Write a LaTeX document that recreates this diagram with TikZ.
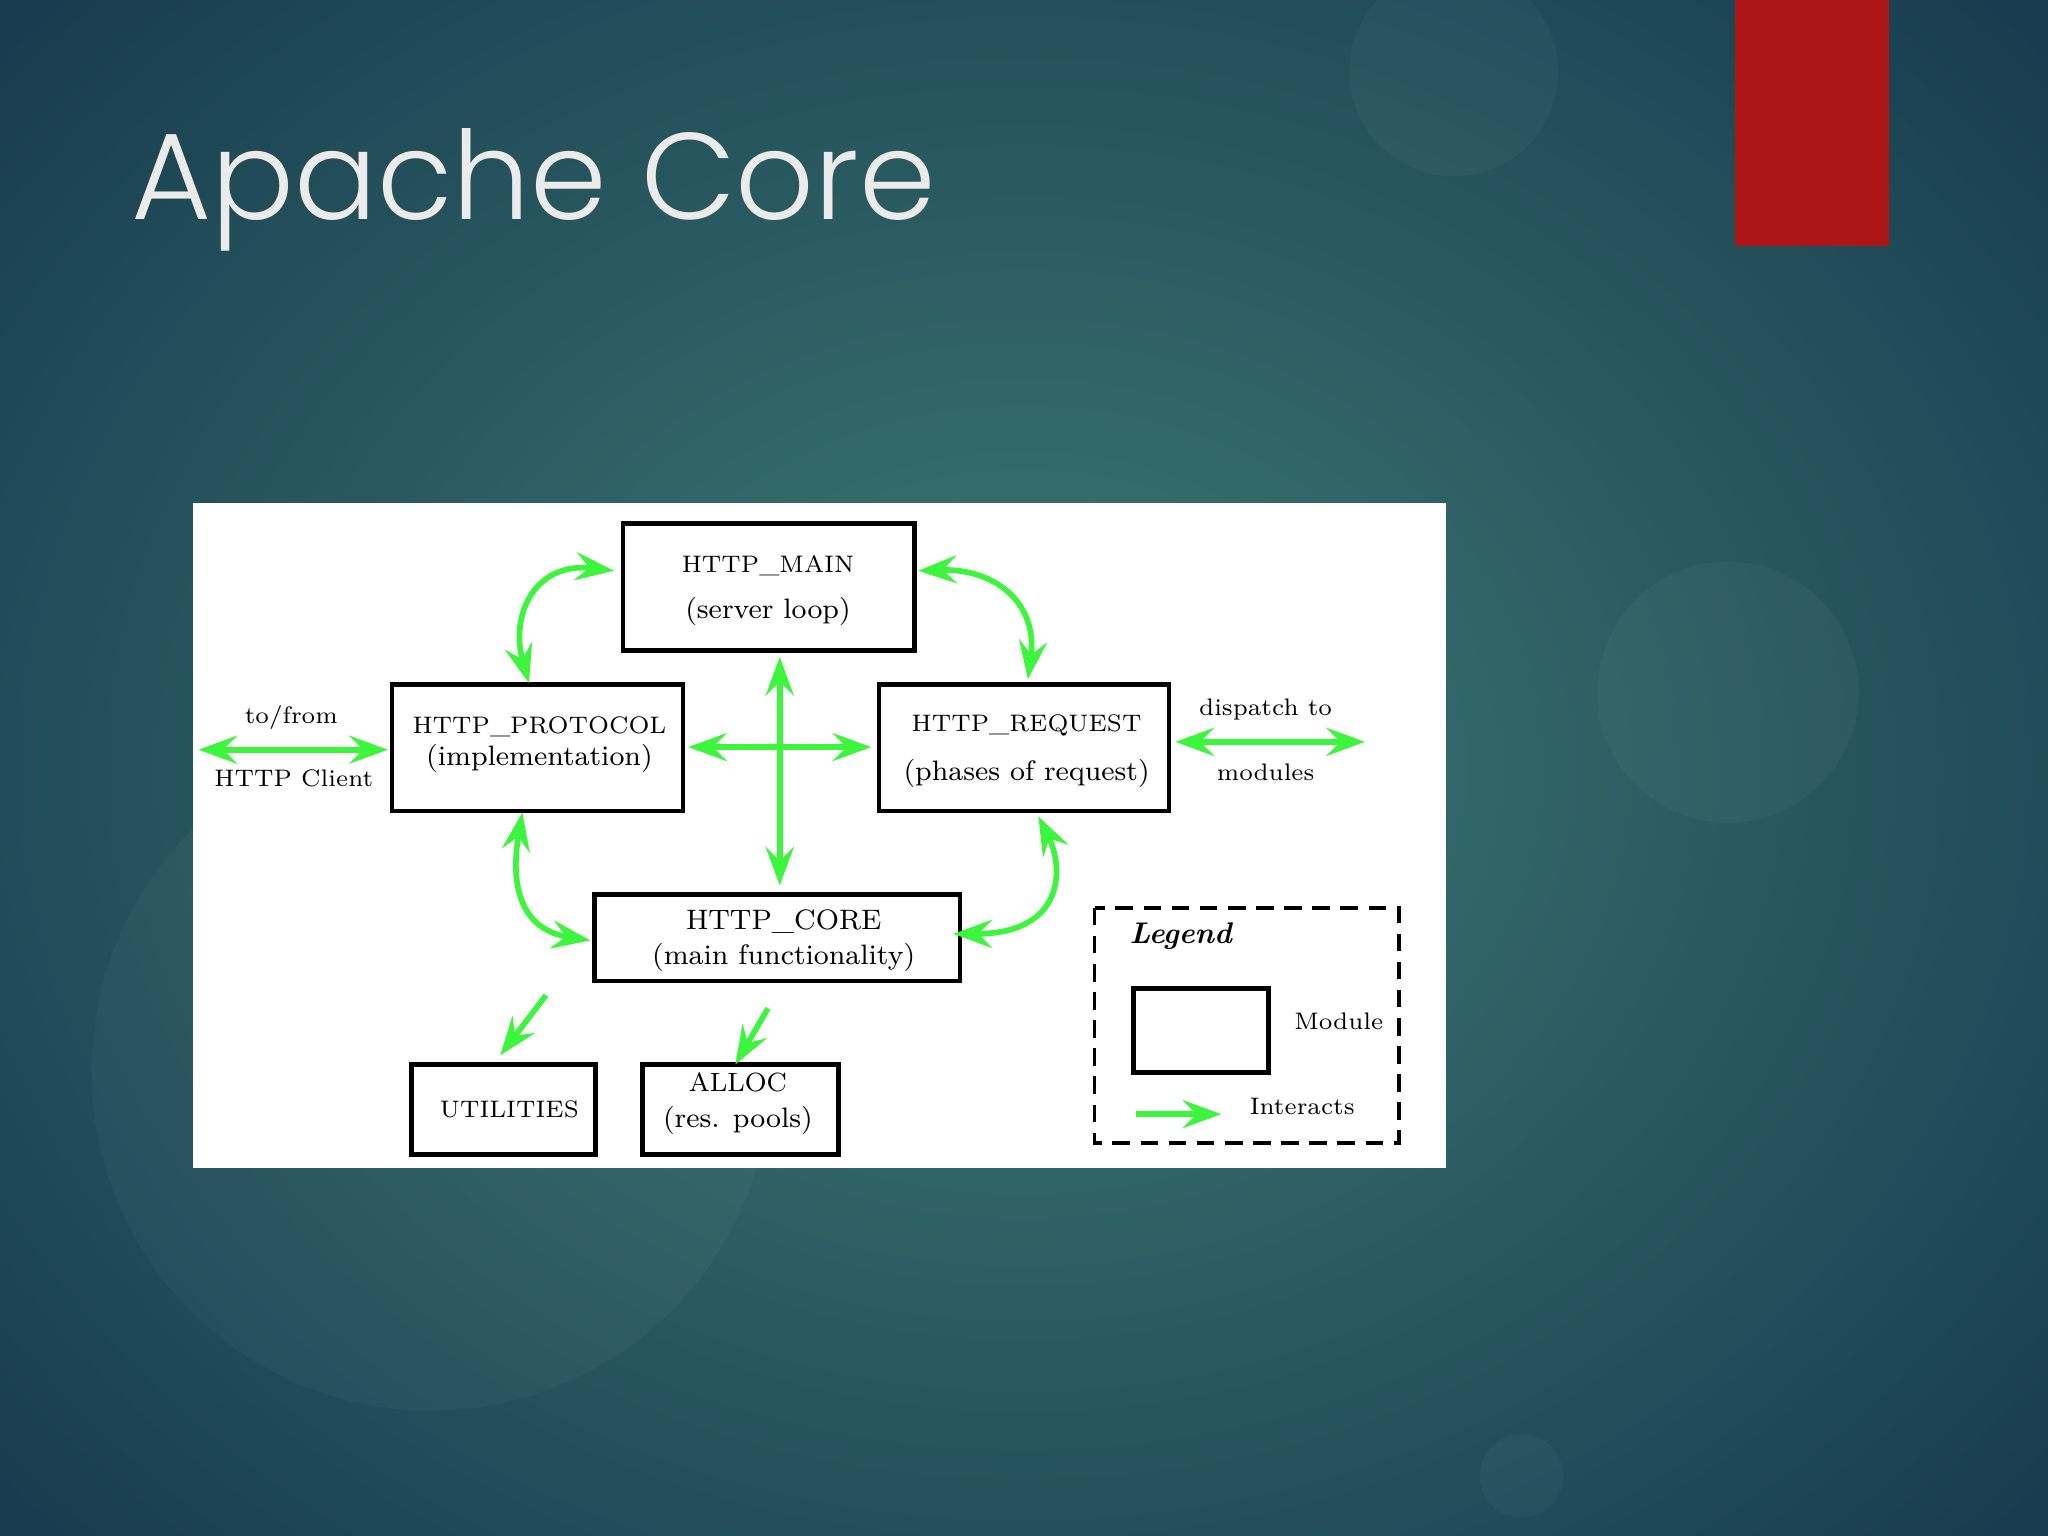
\documentclass[tikz,border=0pt]{standalone}
\usepackage{fontspec}
\newfontfamily\titlefont{Poppins Light}
\usetikzlibrary{arrows.meta,shadings}
\definecolor{grn}{RGB}{60,245,60}
\definecolor{bgin}{RGB}{62,122,115}
\definecolor{bgout}{RGB}{22,58,78}
\definecolor{redbar}{RGB}{172,22,22}
\begin{document}
\begin{tikzpicture}[x=0.013061cm,y=-0.013061cm,
  lab/.style={font=\fontsize{6.8}{9}\selectfont,align=center},
  big/.style={font=\fontsize{8}{9}\selectfont},
  ga/.style={draw=grn,line width=1.6pt,{Stealth[length=11pt,width=8pt,inset=4pt]}-{Stealth[length=11pt,width=8pt,inset=4pt]}},
  g1/.style={draw=grn,line width=1.6pt,-{Stealth[length=11pt,width=8pt,inset=4pt]}}]
\useasboundingbox (0,0) rectangle (1568,1176);
\shade[outer color=bgout,inner color=bgin] (-300,-300) rectangle (1868,1476);
\fill[white,opacity=0.03] (330,820) circle (260);
\fill[white,opacity=0.03] (1323,530) circle (100);
\fill[white,opacity=0.03] (1113,55) circle (80);
\fill[white,opacity=0.03] (1165,1130) circle (32);
\fill[redbar] (1328,0) rectangle (1446,188);
\node[anchor=west,text=white!92!black,font=\titlefont\fontsize{35}{40}\selectfont,inner sep=0pt] (title) at (100,145) {Apache Core};
\fill[white] (148,385) rectangle (1107,894);
% boxes
\draw[line width=1.3pt] (477,401) rectangle (700,498);
\draw[line width=1.3pt] (300,524) rectangle (523,621);
\draw[line width=1.3pt] (673,524) rectangle (895,621);
\draw[line width=1.3pt] (455,685) rectangle (735,751);
\draw[line width=1.3pt] (315,815) rectangle (456,884);
\draw[line width=1.3pt] (492,815) rectangle (642,884);
\node[lab] (tmain) at (588,452) {HTTP\_MAIN\\[4pt]{\fontsize{8}{9}\selectfont(server loop)}};
\node[lab] (tprot) at (413,570) {HTTP\_PROTOCOL\\{\fontsize{8}{9}\selectfont(implementation)}};
\node[lab] (treq) at (786,575) {HTTP\_REQUEST\\[5pt]{\fontsize{8}{9}\selectfont(phases of request)}};
\node[lab] (tcore) at (600,720) {{\fontsize{8}{9}\selectfont HTTP\_CORE}\\[1pt]{\fontsize{8}{9}\selectfont(main functionality)}};
\node[lab] (tutil) at (390,849) {UTILITIES};
\node[lab] (talloc) at (565,845) {{\fontsize{7.5}{9}\selectfont ALLOC}\\[1pt]{\fontsize{8}{9}\selectfont(res. pools)}};
% legend
\draw[line width=1pt,dash pattern=on 5pt off 3pt] (838,695) rectangle (1071,875);
\node[font=\bfseries\itshape\fontsize{8.5}{10}\selectfont] (leg) at (904,717) {Legend};
\draw[line width=1.3pt] (868,757) rectangle (971,821);
\node[lab] (lmod) at (1025,782) {Module};
\node[lab] (lint) at (997,847) {Interacts};
\coordinate (la) at (870,853); \coordinate (lb) at (935,853);
\draw[g1] (la) -- (lb);
% connectors
\coordinate (mL) at (470,437); \coordinate (mR) at (703,437);
\coordinate (pT) at (405,523); \coordinate (rT) at (787,520);
\coordinate (pB) at (400,622); \coordinate (rB) at (795,625);
\coordinate (cL) at (452,720); \coordinate (cR) at (730,715);
\draw[ga] (pT) .. controls (390,470) and (410,430) .. (mL);
\draw[ga] (mR) .. controls (760,435) and (795,460) .. (rT);
\draw[ga] (pB) .. controls (390,680) and (400,712) .. (cL);
\draw[ga] (rB) .. controls (815,665) and (815,715) .. (cR);
\coordinate (vt) at (597,503); \coordinate (vb) at (597,678);
\coordinate (hl) at (527,572); \coordinate (hr) at (667,572);
\draw[ga] (vt) -- (vb);
\draw[ga] (hl) -- (hr);
\coordinate (c1) at (152,574); \coordinate (c2) at (297,574);
\draw[ga] (c1) -- (c2);
\node[lab] (tofrom) at (223,549) {to/from};
\node[lab] (client) at (225,596) {HTTP Client};
\coordinate (d1) at (900,568); \coordinate (d2) at (1045,568);
\draw[ga] (d1) -- (d2);
\node[lab] (disp) at (969,543) {dispatch to};
\node[lab] (mods) at (969,591) {modules};
\coordinate (u1) at (418,762); \coordinate (u2) at (383,808);
\draw[g1] (u1) -- (u2);
\coordinate (a1) at (588,772); \coordinate (a2) at (563,815);
\draw[g1] (a1) -- (a2);
\end{tikzpicture}
\end{document}
